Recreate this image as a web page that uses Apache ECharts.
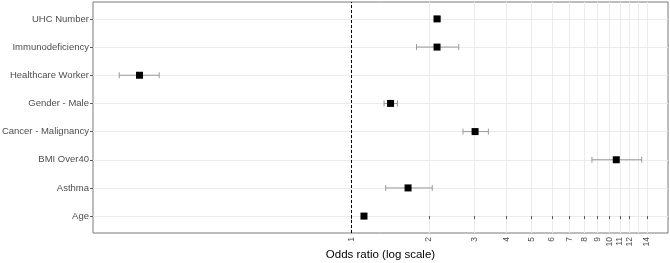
<!DOCTYPE html>
<html>
<head>
<meta charset="utf-8">
<script src="https://cdn.jsdelivr.net/npm/echarts@6/dist/echarts.min.js"></script>
<style>
  html, body { margin: 0; padding: 0; background: #fff; }
  #chart { width: 670px; height: 263px; }
</style>
</head>
<body>
<div id="chart"></div>
<script>
// 变量 (bottom to top)
const categories = ['Age', 'Asthma', 'BMI Over40', 'Cancer - Malignancy', 'Gender - Male', 'Healthcare Worker', 'Immunodeficiency', 'UHC Number']
const oddsRatio = [1.12, 1.66, 10.65, 3.02, 1.42, 0.151, 2.15, 2.15]
const ciLower  = [1.11, 1.36, 8.57, 2.71, 1.34, 0.126, 1.79, 2.10]
const ciUpper  = [1.13, 2.06, 13.36, 3.40, 1.51, 0.180, 2.61, 2.22]
const xTicks = [1, 2, 3, 4, 5, 6, 7, 8, 9, 10, 11, 12, 13, 14]

let myChart = echarts.init(document.getElementById('chart'))

let yIdx = categories.map((c, i) => i)
let points = oddsRatio.map((v, i) => [v, i])
let bars = ciLower.map((v, i) => [v, ciUpper[i], i])

let option = {
  animation: false,
  grid: {
    left: 93, top: 2, right: 2, bottom: 30,
    outerBoundsMode: 'none',
    containLabel: false,
    show: true,
    borderColor: '#7a7a7a',
    borderWidth: 1
  },
  xAxis: {
    type: 'log',
    min: 0.0997,
    max: 16.9,
    name: 'Odds ratio (log scale)',
    nameLocation: 'middle',
    nameGap: 16,
    nameMoveOverlap: false,
    nameTextStyle: { color: '#000', fontSize: 11.5, fontFamily: 'Liberation Sans' },
    axisLine: { show: false },
    axisTick: { show: true, length: 3, lineStyle: { color: '#555' }, customValues: xTicks },
    axisLabel: {
      customValues: xTicks,
      rotate: 90,
      margin: 4,
      fontSize: 8.5,
      color: '#4d4d4d',
      fontFamily: 'Liberation Sans',
      hideOverlap: false,
      showMinLabel: true,
      showMaxLabel: true,
      formatter: v => String(Math.round(v))
    },
    splitLine: { show: true, lineStyle: { color: '#ebebeb', width: 1 } },
    minorSplitLine: { show: false }
  },
  yAxis: {
    type: 'value',
    min: -0.6,
    max: 7.6,
    axisLine: { show: false },
    axisTick: { show: true, length: 3, lineStyle: { color: '#555' }, customValues: yIdx },
    axisLabel: {
      customValues: yIdx,
      margin: 4,
      fontSize: 9.5,
      color: '#4d4d4d',
      fontFamily: 'Liberation Sans',
      formatter: v => categories[Math.round(v)]
    },
    splitLine: { show: true, lineStyle: { color: '#ebebeb', width: 1 } }
  },
  series: [
    {
      type: 'custom',
      data: bars,
      silent: true,
      renderItem: function (params, api) {
        let lo = api.coord([api.value(0), api.value(2)])
        let hi = api.coord([api.value(1), api.value(2)])
        let h = 3
        let style = { stroke: '#9a9a9a', lineWidth: 1, fill: null }
        return {
          type: 'group',
          children: [
            { type: 'line', shape: { x1: lo[0], y1: lo[1], x2: hi[0], y2: hi[1] }, style: style },
            { type: 'line', shape: { x1: lo[0], y1: lo[1] - h, x2: lo[0], y2: lo[1] + h }, style: style },
            { type: 'line', shape: { x1: hi[0], y1: hi[1] - h, x2: hi[0], y2: hi[1] + h }, style: style }
          ]
        }
      },
      markLine: {
        silent: true,
        symbol: ['none', 'none'],
        label: { show: false },
        lineStyle: { color: '#000', type: [3, 2], width: 1 },
        data: [{ xAxis: 1 }]
      },
      z: 2
    },
    {
      type: 'scatter',
      data: points,
      symbol: 'rect',
      symbolSize: 7,
      itemStyle: { color: '#000', opacity: 1 },
      z: 3
    }
  ]
}

myChart.setOption(option)
window.addEventListener('resize', function () {
  myChart.resize()
}, false)
</script>
</body>
</html>
